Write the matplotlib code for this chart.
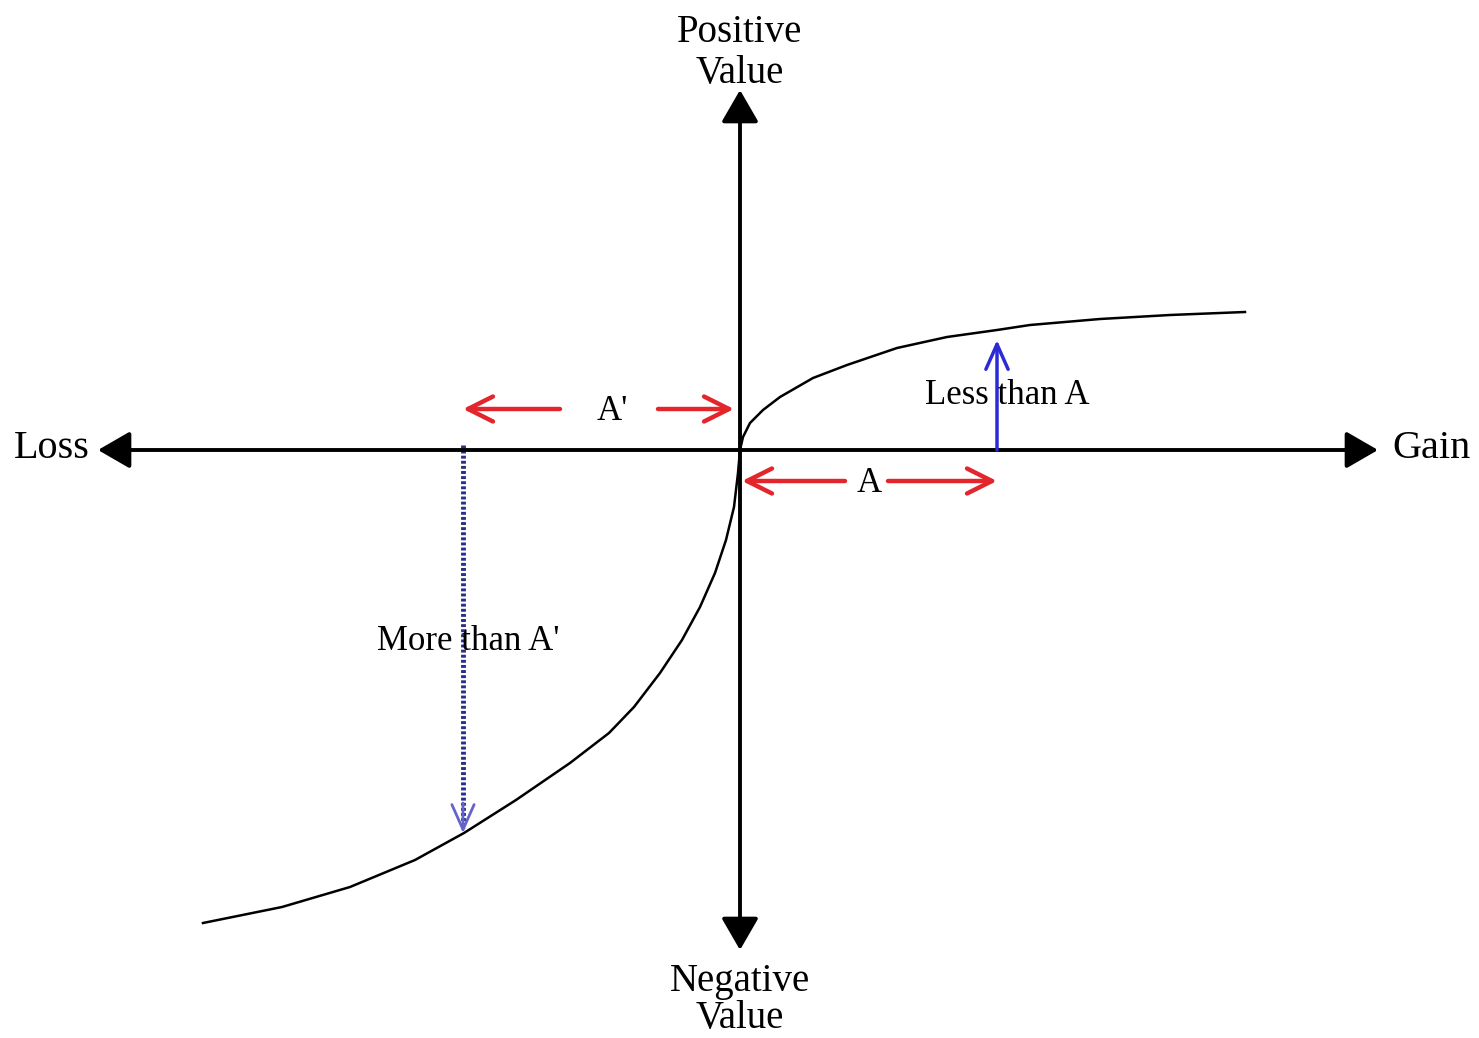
import numpy as np
import matplotlib.pyplot as plt

# value function (x = outcome, y = value)
gain_x = [0, 0.03, 0.10, 0.23, 0.40, 0.73, 1.07, 1.57, 2.07, 2.57, 2.90, 3.60, 4.30, 5.05]
gain_y = [0, 0.13, 0.27, 0.40, 0.53, 0.72, 0.85, 1.02, 1.13, 1.20, 1.25, 1.31, 1.35, 1.38]
loss_x = [0, -0.02, -0.06, -0.14, -0.25, -0.40, -0.58, -0.80, -1.06, -1.31,
          -1.70, -2.24, -2.76, -3.25, -3.90, -4.58, -5.37]
loss_y = [0, -0.23, -0.57, -0.90, -1.23, -1.57, -1.90, -2.23, -2.57, -2.83,
          -3.13, -3.50, -3.83, -4.10, -4.37, -4.57, -4.73]

gain_a = 2.57     # gain of size A
loss_a = -2.77    # loss of size A'
v_gain = 1.10     # value of gain A (arrow tip)
v_loss = -3.83    # value of loss A'

fig = plt.figure(figsize=(14.79, 10.38), dpi=100)
ax = fig.add_axes([0, 0, 1, 1])
ax.set_xlim(-7.40, 7.39)
ax.set_ylim(-5.88, 4.50)
ax.axis('off')

serif = ['Liberation Serif', 'DejaVu Serif']
black_head = dict(arrowstyle='-|>,head_length=0.9,head_width=0.52',
                  color='black', lw=2.8, mutation_scale=22, shrinkA=0, shrinkB=0)

# axes with arrowheads
ax.annotate('', xy=(-6.42, 0), xytext=(0, 0), arrowprops=black_head)
ax.annotate('', xy=(6.38, 0), xytext=(0, 0), arrowprops=black_head)
ax.annotate('', xy=(0, 3.60), xytext=(0, 0), arrowprops=black_head)
ax.annotate('', xy=(0, -5.0), xytext=(0, 0), arrowprops=black_head)

ax.text(0, 3.97, 'Positive\nValue', ha='center', va='center', fontsize=28,
        family=serif, linespacing=1.12)
ax.text(0, -5.50, 'Negative\nValue', ha='center', va='center', fontsize=28,
        family=serif, linespacing=1.0)
ax.text(-6.88, 0.02, 'Loss', ha='center', va='center', fontsize=29, family=serif)
ax.text(6.92, 0.02, 'Gain', ha='center', va='center', fontsize=29, family=serif)

# curve
ax.plot(gain_x, gain_y, color='black', lw=1.8, solid_joinstyle='round')
ax.plot(loss_x, loss_y, color='black', lw=1.8, solid_joinstyle='round')

# red distance arrows
red = '#e3262b'
red_head = dict(arrowstyle='->,head_length=0.9,head_width=0.45', color=red,
                lw=3.2, mutation_scale=20, shrinkA=0, shrinkB=0)
ax.annotate('', xy=(loss_a, 0.41), xytext=(-1.80, 0.41), arrowprops=red_head)
ax.annotate('', xy=(-0.06, 0.41), xytext=(-0.82, 0.41), arrowprops=red_head)
ax.text(-1.28, 0.39, "A'", ha='center', va='center', fontsize=25, family=serif)

ax.annotate('', xy=(0.02, -0.31), xytext=(1.05, -0.31), arrowprops=red_head)
ax.annotate('', xy=(gain_a, -0.31), xytext=(1.48, -0.31), arrowprops=red_head)
ax.text(1.29, -0.33, 'A', ha='center', va='center', fontsize=25, family=serif)

# blue value arrows
blue = '#2b2bd6'
ax.annotate('', xy=(gain_a, v_gain), xytext=(gain_a, 0),
            arrowprops=dict(arrowstyle='->,head_length=0.9,head_width=0.4',
                            color=blue, lw=2.5, mutation_scale=20,
                            shrinkA=0, shrinkB=0))
ax.text(gain_a + 0.10, 0.54, 'Less than A', ha='center', va='center',
        fontsize=25, family=serif)

ax.plot([loss_a, loss_a], [0.05, v_loss + 0.05], color='#2d2d8c', lw=3.5,
        ls=(0, (0.6, 0.45)))
ax.annotate('', xy=(loss_a, v_loss), xytext=(loss_a, v_loss + 0.3),
            arrowprops=dict(arrowstyle='->,head_length=0.9,head_width=0.4',
                            color='#6464c8', lw=2, mutation_scale=20,
                            shrinkA=0, shrinkB=0))
ax.text(-2.72, -1.92, "More than A'", ha='center', va='center',
        fontsize=25, family=serif)

plt.savefig('out.png', dpi=100)
